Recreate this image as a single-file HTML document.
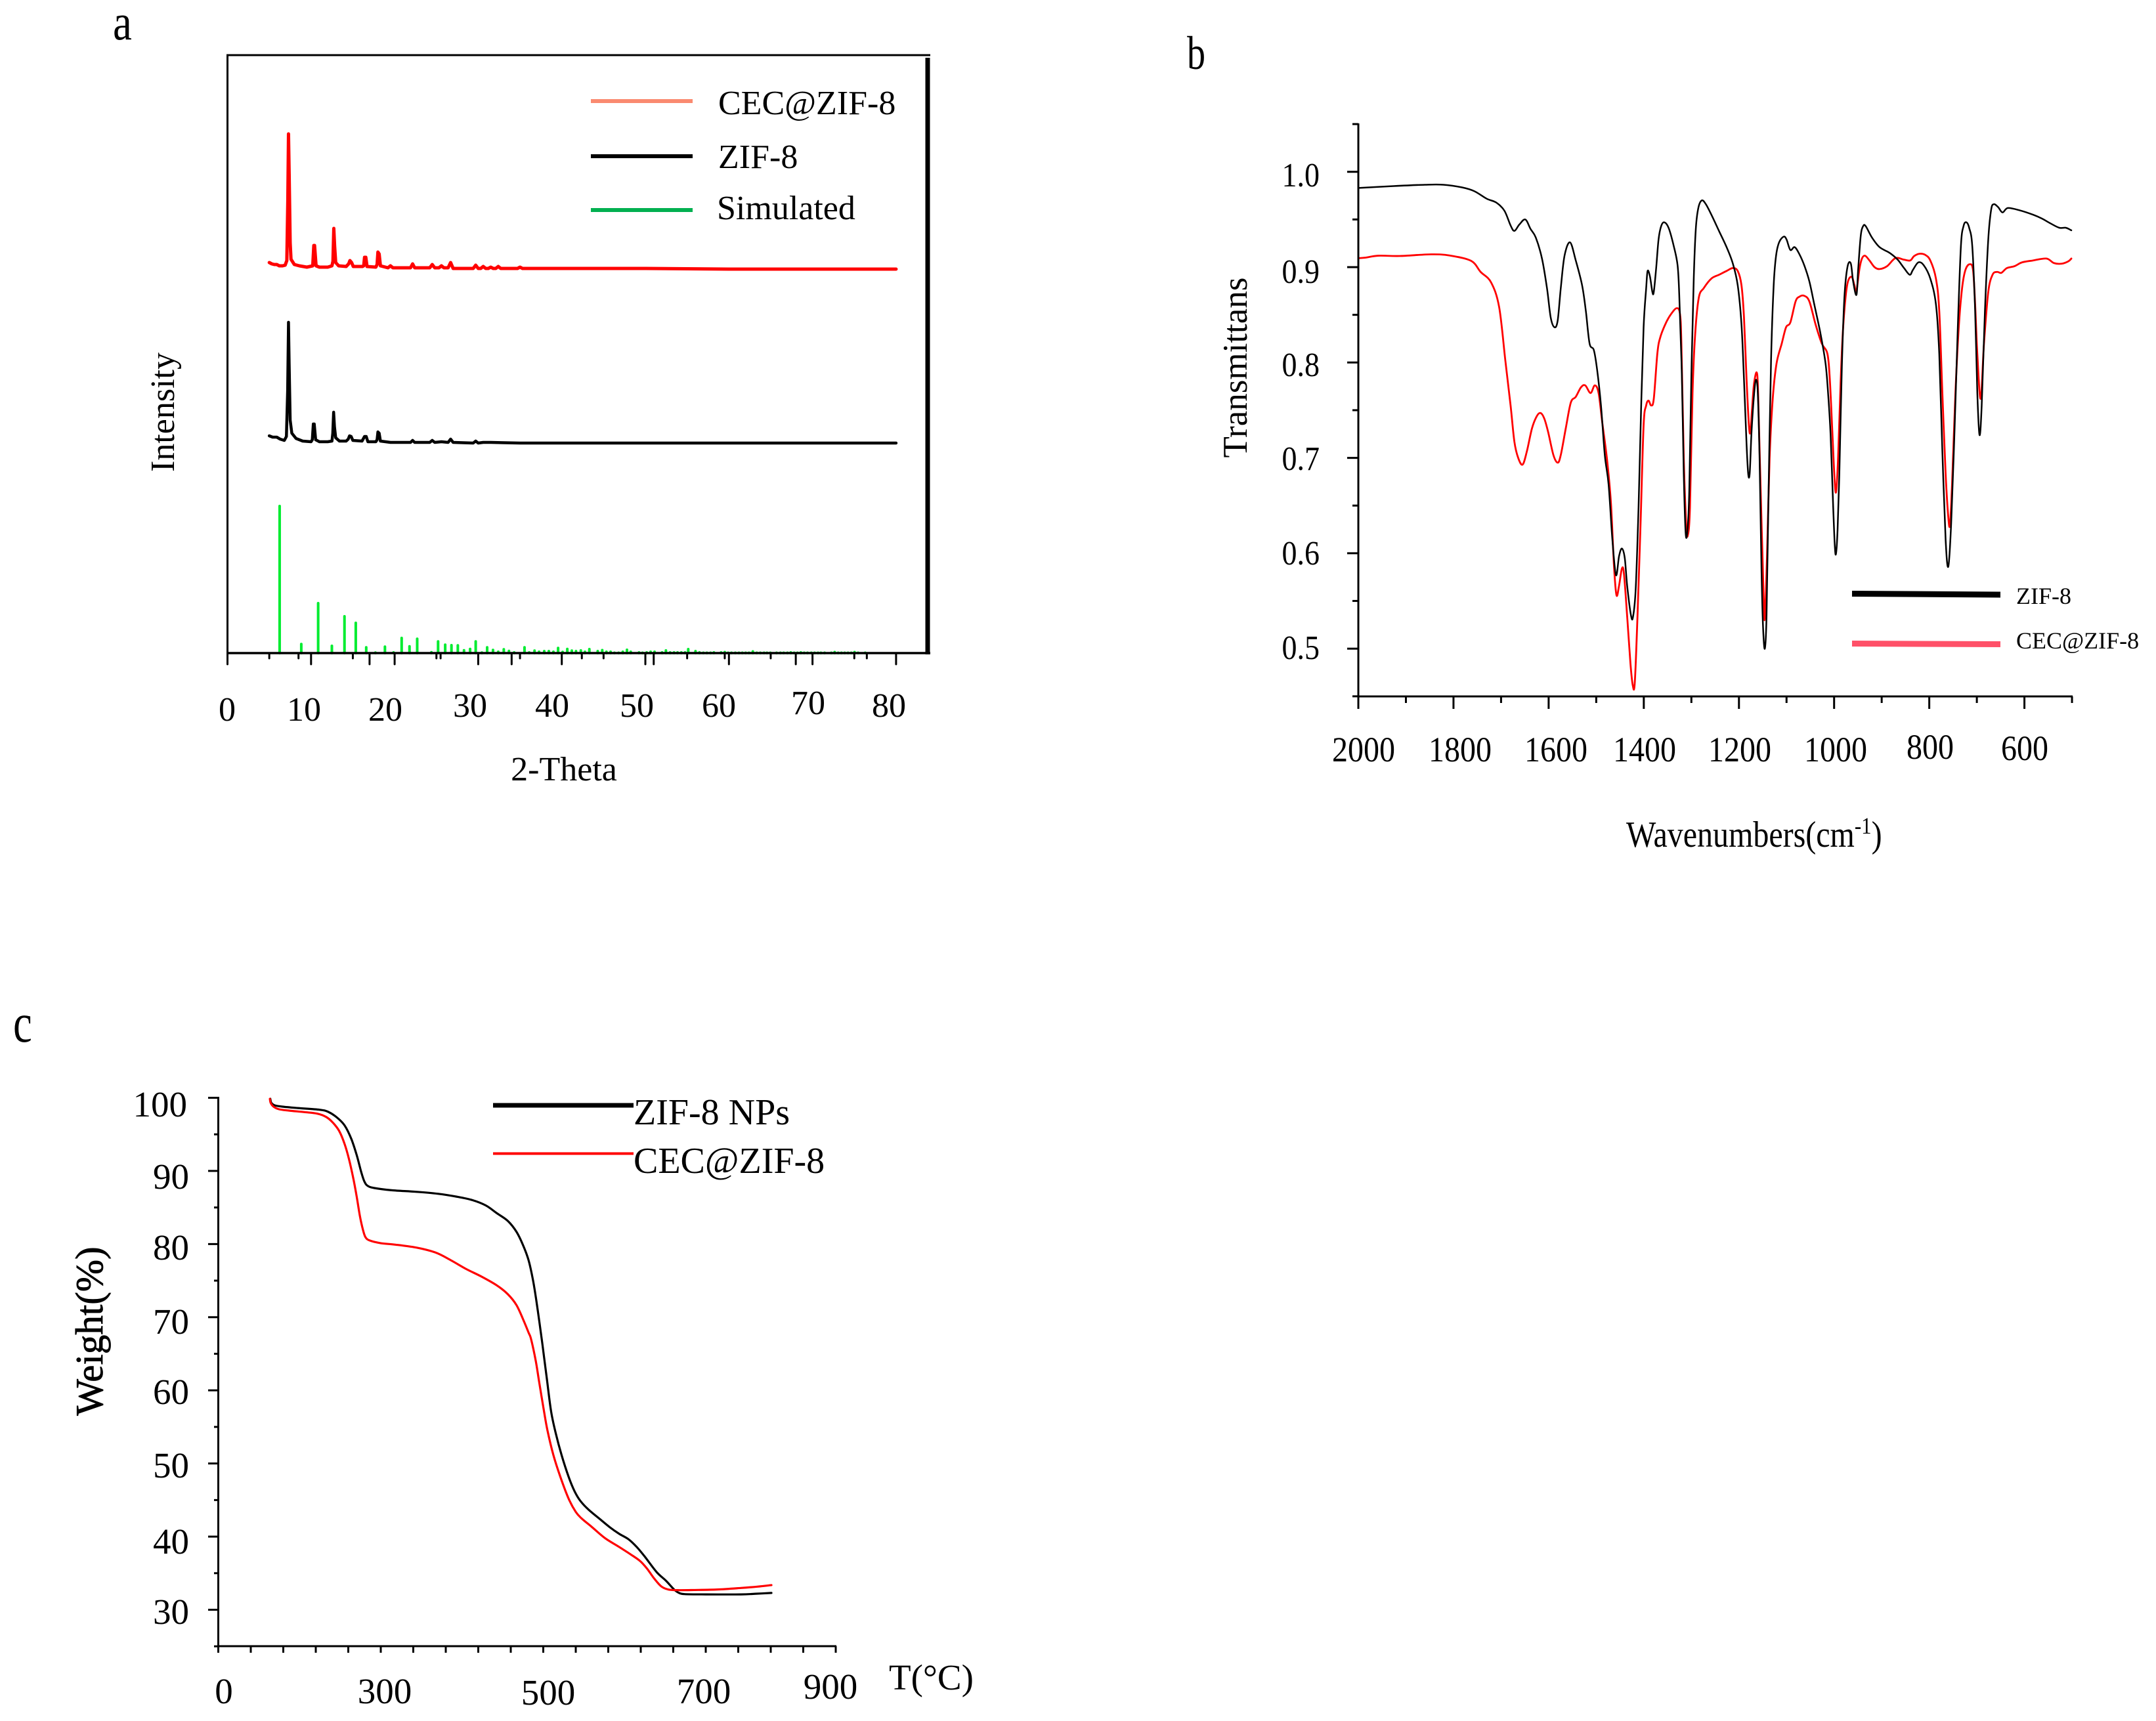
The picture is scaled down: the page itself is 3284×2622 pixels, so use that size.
<!DOCTYPE html>
<html lang="en">
<head>
<meta charset="utf-8">
<title>ZIF-8 and CEC@ZIF-8 characterisation</title>
<style>
html,body{margin:0;padding:0;background:#fff;}
svg{display:block;}
text{font-family:"Liberation Serif",serif;fill:#000;}
</style>
</head>
<body>
<svg id="figure" xmlns="http://www.w3.org/2000/svg" width="3284" height="2622" viewBox="0 0 3284 2622">
<rect x="0" y="0" width="3284" height="2622" fill="#ffffff"/>

<g id="panel-a">
  <text font-size="65" transform="translate(172,60) scale(1,1.2)">a</text>
  <g id="a-marks"></g>
  <g id="a-axes"></g>
  <g font-size="52" text-anchor="middle">
    <text x="346" y="1098">0</text>
    <text x="463" y="1098">10</text>
    <text x="587" y="1098">20</text>
    <text x="716" y="1092">30</text>
    <text x="841" y="1092">40</text>
    <text x="970" y="1092">50</text>
    <text x="1095" y="1092">60</text>
    <text x="1231" y="1088">70</text>
    <text x="1354" y="1092">80</text>
  </g>
  <text font-size="52" text-anchor="middle" x="859" y="1189">2-Theta</text>
  <text font-size="52" text-anchor="middle" transform="translate(265,628) rotate(-90)">Intensity</text>
  <g font-size="52">
    <line x1="900" y1="154" x2="1055" y2="154" stroke="#fa8a70" stroke-width="6"/>
    <text x="1094" y="174">CEC@ZIF-8</text>
    <line x1="900" y1="238" x2="1055" y2="238" stroke="#000" stroke-width="6"/>
    <text x="1094" y="256">ZIF-8</text>
    <line x1="900" y1="320" x2="1055" y2="320" stroke="#00b050" stroke-width="6"/>
    <text x="1092" y="334">Simulated</text>
  </g>
</g>

<g id="panel-b">
  <text font-size="56" transform="translate(1808,105) scale(1,1.28)">b</text>
  <g id="b-marks"></g>
  <g id="b-axes"></g>
  <g font-size="48" text-anchor="middle">
    <text transform="translate(2077,1160) scale(1,1.12)">2000</text>
    <text transform="translate(2224,1160) scale(1,1.12)">1800</text>
    <text transform="translate(2370,1160) scale(1,1.12)">1600</text>
    <text transform="translate(2505,1160) scale(1,1.12)">1400</text>
    <text transform="translate(2650,1160) scale(1,1.12)">1200</text>
    <text transform="translate(2796,1160) scale(1,1.12)">1000</text>
    <text transform="translate(2940,1156) scale(1,1.12)">800</text>
    <text transform="translate(3084,1158) scale(1,1.12)">600</text>
  </g>
  <g font-size="46" text-anchor="end">
    <text transform="translate(2010,284) scale(1,1.13)">1.0</text>
    <text transform="translate(2010,431) scale(1,1.13)">0.9</text>
    <text transform="translate(2010,573) scale(1,1.13)">0.8</text>
    <text transform="translate(2010,716) scale(1,1.13)">0.7</text>
    <text transform="translate(2010,860) scale(1,1.13)">0.6</text>
    <text transform="translate(2010,1004) scale(1,1.13)">0.5</text>
  </g>
  <text font-size="53" text-anchor="middle" transform="translate(1899,560) rotate(-90)">Transmittans</text>
  <text font-size="48" transform="translate(2477,1290) scale(1,1.17)">Wavenumbers(cm<tspan font-size="31" dy="-17">-1</tspan><tspan dy="17">)</tspan></text>
  <g font-size="36">
    <line x1="2821" y1="904.5" x2="3047" y2="906" stroke="#000" stroke-width="9"/>
    <text x="3071" y="920">ZIF-8</text>
    <line x1="2821" y1="980.5" x2="3047" y2="981.5" stroke="#ff5068" stroke-width="9"/>
    <text x="3071" y="988">CEC@ZIF-8</text>
  </g>
</g>

<g id="panel-c">
  <text font-size="65" transform="translate(20,1587) scale(1,1.3)">c</text>
  <g id="c-marks"></g>
  <g id="c-axes"></g>
  <g font-size="55" text-anchor="end">
    <text x="285" y="1701">100</text>
    <text x="288" y="1811">90</text>
    <text x="288" y="1919">80</text>
    <text x="288" y="2032">70</text>
    <text x="288" y="2139">60</text>
    <text x="288" y="2251">50</text>
    <text x="288" y="2367">40</text>
    <text x="288" y="2474">30</text>
  </g>
  <g font-size="55" text-anchor="middle">
    <text x="341" y="2595">0</text>
    <text x="586" y="2595">300</text>
    <text x="835" y="2597">500</text>
    <text x="1072" y="2595">700</text>
    <text x="1265" y="2588">900</text>
  </g>
  <text font-size="55" x="1354" y="2574">T(°C)</text>
  <text font-size="59" text-anchor="middle" stroke="#000" stroke-width="0.8" transform="translate(156,2028) rotate(-90)">Weight(%)</text>
  <g font-size="56">
    <line x1="751" y1="1684" x2="965" y2="1684" stroke="#000" stroke-width="7"/>
    <text x="965" y="1713">ZIF-8 NPs</text>
    <line x1="751" y1="1757.5" x2="965" y2="1757.5" stroke="#f00" stroke-width="4"/>
    <text x="965" y="1787">CEC@ZIF-8</text>
  </g>
</g>
</svg>

<script>
// ---------- Panel a: XRD ----------
const xrdTickMajor = [0,10,17,20,30,34,40,50,51,60,68,70,80];
const xrdTickMinor = [5,8.5,15,25,25.5,35,42.4,45,55,59.5,65,75,76.5];
const xrdCecTheta = [5,5.3,5.6,5.9,6.2,6.6,6.9,7.1,7.22,7.3,7.38,7.5,7.6,8,8.6,9.5,10.2,10.33,10.42,10.6,11,12,12.5,12.62,12.72,12.82,12.95,13.3,14.2,14.5,14.65,14.85,15.05,16.15,16.3,16.4,16.55,16.7,17.75,17.9,18,18.15,18.3,19.2,19.5,19.8,21.9,22.15,22.4,24.2,24.5,24.8,25.3,25.6,25.9,26.4,26.7,27,29.4,29.7,30,30.3,30.6,30.9,31.2,31.5,31.8,32.1,32.4,32.7,34.7,35,35.3,40,50,60,70,80];
const xrdCecIntensity = [595,593,592,592,590,590,591,598,690,791,730,625,600,592,590,588,590,621,621,590,588,588,590,597,647,620,595,590,589,593,598,595,589,589,590,603,603,589,588,592,611,608,590,587,590,587,587,593,587,587,592,587,587,590,587,587,595,586,586,591,586,586,589,586,586,588,586,586,589,586,586,588,586,586,586,585,585,585];
const xrdZifTheta = [5,5.4,5.9,6.3,6.8,7.05,7.2,7.3,7.38,7.5,7.7,8.2,9,10,10.15,10.27,10.38,10.55,11,12,12.5,12.6,12.7,12.8,12.95,13.4,14.2,14.45,14.6,14.8,15,16.1,16.4,16.6,16.8,17.75,17.9,18,18.15,18.3,19.5,21.9,22.15,22.4,24.2,24.5,24.8,25.6,26.4,26.7,27,29.4,29.7,30,30.6,31.5,35,50,80];
const xrdZifIntensity = [331,329,329,326,324,330,400,504,440,355,335,327,323,322,325,349,349,325,322,322,323,335,367,345,328,323,323,326,331,330,324,323,330,330,322,322,325,337,335,323,321,321,324,321,321,324,321,322,321,326,321,320,323,320,321,321,320,320,320];
const xrdSimTheta = [6.24,8.83,10.85,12.49,14,15.35,16.6,17.7,18.84,19.87,20.84,21.78,22.7,24.4,25.2,26.05,26.8,27.56,28.3,29.03,29.7,30.44,31.07,31.77,32.4,33.06,33.68,34.3,35.54,36.1,36.74,37.28,37.9,38.45,39,39.56,40.1,40.66,41.2,41.7,42.28,42.77,43.3,44.3,44.84,45.34,45.84,46.3,46.8,47.3,47.8,48.25,49.24,49.66,50.16,50.63,51.1,52,52.46,52.96,53.43,53.85,54.3,54.75,55.13,56,56.47,56.94,57.36,57.8,58.2,59.06,59.5,59.9,60.3,60.76,61.2,61.6,62,62.4,62.86,63.33,63.75,64.2,64.55,64.95,65.7,66.16,66.55,67,67.4,67.8,68.2,68.6,69,69.4,69.85,70.25,70.66,71,71.45,72.25,72.65,73.07,73.46,73.85,74.25,74.64,75.03,75.45,76.3];
const xrdSimIntensity = [226,15.7,78,13,58,48,10.7,2.7,11.7,3,25,12.3,23.7,3.3,19.7,14.7,14,13.7,6.3,8.3,19.7,2.7,10.7,6.7,4,7.7,5.3,3,10.7,3,5.7,4,5,5,4,9.7,3.7,8.3,5.7,5,6,4,8,5,6.5,4,4,2,2,4,7,4,3,2,3,4,4,3,6,3,3,3,3,3,8,5,3,2.5,2.5,2.5,3,3,3.5,2.5,2.5,2.5,2.5,2,2.5,1.5,4.5,2,1.5,1.5,1.5,2,1.5,1.5,1.5,2,3,1.5,1.5,3,2.5,2.5,1.5,1.5,1.5,1.5,1.5,1.5,3.5,1.5,1.5,1.5,1.5,1.5,3.5,1.5,1.5];

// ---------- Panel b: FTIR ----------
const ftirTickMajorX = [2000,1800,1600,1400,1200,1000,800,600];
const ftirTickMinorX = [1900,1700,1500,1300,1100,900,700,500];
const ftirTickMajorY = [1,0.9,0.8,0.7,0.6,0.5];
const ftirTickMinorY = [1.05,0.95,0.85,0.75,0.65,0.55,0.45];
const ftirZifWavenumber = [2000,1926,1860,1821,1782,1756,1730,1710,1693,1680,1672,1661.5,1649,1638,1627,1614,1603.5,1595.6,1587.7,1581,1574.5,1566.6,1555,1543,1529.7,1521.8,1514,1505,1498,1490,1482,1474,1466,1458.5,1452,1446,1440,1435,1427,1422.6,1417,1411,1405.7,1400.4,1395,1392,1387,1382,1379,1374,1369,1363.5,1357,1347.7,1337,1329,1325.5,1320,1316,1312,1308,1304.4,1300,1295,1290.7,1285.4,1278,1269.6,1258,1242,1226,1213,1202.6,1194.7,1189.4,1184,1180.5,1177.3,1173.6,1168,1164,1160.4,1156.7,1152.5,1149.3,1145.6,1142,1137.7,1132.5,1127,1122,1115.6,1106,1100,1092,1083,1073.4,1062.8,1052,1041.7,1028.5,1018,1012.7,1007.4,1002,998.5,996,992.7,989,983.7,978.4,972,965,960,953,949.4,944,939,933.6,920.4,904.6,883.5,866.7,853,841,834.5,823,811.6,797.8,786,779,772.5,765.6,760,754,747,740,733.5,728,722,716,709.6,703.6,699,694.4,689.8,683,676,670,664.5,655.4,646,634.7,609.4,582,563.5,545,526.7,513,501.4];
const ftirZifTransmittance = [0.983,0.985,0.9864,0.9864,0.9836,0.9796,0.9717,0.9677,0.9592,0.9437,0.938,0.9447,0.95,0.94,0.931,0.909,0.878,0.847,0.837,0.844,0.878,0.912,0.926,0.907,0.881,0.854,0.82,0.813,0.792,0.755,0.703,0.672,0.614,0.577,0.597,0.605,0.595,0.566,0.535,0.5335,0.563,0.649,0.751,0.837,0.878,0.896,0.89,0.874,0.874,0.899,0.929,0.943,0.947,0.941,0.922,0.902,0.871,0.786,0.683,0.621,0.625,0.666,0.786,0.888,0.94,0.962,0.97,0.966,0.955,0.938,0.921,0.904,0.881,0.84,0.782,0.714,0.683,0.6845,0.727,0.768,0.782,0.768,0.7,0.58,0.522,0.5,0.535,0.666,0.803,0.881,0.912,0.926,0.932,0.929,0.918,0.921,0.914,0.902,0.885,0.861,0.83,0.799,0.768,0.724,0.649,0.6075,0.5996,0.6246,0.683,0.796,0.868,0.9,0.904,0.885,0.871,0.898,0.933,0.943,0.943,0.931,0.921,0.915,0.908,0.899,0.892,0.897,0.905,0.902,0.888,0.861,0.809,0.707,0.614,0.586,0.631,0.727,0.837,0.922,0.943,0.947,0.941,0.922,0.854,0.768,0.724,0.755,0.854,0.929,0.96,0.966,0.963,0.9574,0.962,0.9595,0.955,0.951,0.9458,0.9413,0.9413,0.9386];
const ftirCecWavenumber = [2000,1985,1958,1913,1847,1808,1763,1743,1721,1704,1691,1680,1672,1664,1654.7,1645.7,1635,1624.6,1616.7,1609,1601,1590,1581,1574.5,1564,1553.4,1543,1532,1523,1512,1503,1495,1487.5,1477,1469,1462.7,1457.4,1452,1446,1441.6,1434.7,1428,1423,1419,1413.6,1406.8,1400.4,1395,1390,1384.6,1379,1371.4,1365,1353,1342.4,1330.8,1324,1321,1316,1311,1307.6,1303,1297.6,1292,1284.4,1274,1258,1242,1226,1213,1202.6,1194.7,1189.4,1184,1179,1176,1172.5,1168,1161.5,1158,1152.5,1148,1145.6,1141,1135.6,1129,1121,1110,1101,1092,1081,1073,1063,1052,1039,1026,1014,1009,1003.7,999.6,996,991.6,986.3,981,973,963.7,957.3,953.6,946.8,941.5,935,925.7,915,904.6,888.7,871,853,840,832,820.8,809,797.8,786,779,772.5,765.6,760,756.4,752,745,738,731,724,715,708,703.6,699,692,685,676,667,657.6,648.5,637,621,605,582,554,538,522,508,501.4];
const ftirCecTransmittance = [0.9094,0.91,0.912,0.9117,0.9134,0.9122,0.9066,0.895,0.884,0.858,0.802,0.755,0.717,0.7,0.693,0.707,0.731,0.744,0.747,0.741,0.727,0.703,0.695,0.703,0.731,0.758,0.764,0.774,0.776,0.768,0.776,0.768,0.738,0.697,0.652,0.587,0.556,0.566,0.584,0.578,0.532,0.484,0.461,0.464,0.529,0.6315,0.734,0.755,0.76,0.755,0.762,0.81,0.827,0.842,0.851,0.857,0.851,0.82,0.7,0.631,0.6185,0.648,0.768,0.83,0.868,0.878,0.888,0.892,0.896,0.899,0.896,0.881,0.847,0.782,0.734,0.727,0.751,0.779,0.787,0.734,0.631,0.553,0.532,0.597,0.7,0.762,0.799,0.82,0.837,0.842,0.864,0.869,0.87,0.864,0.84,0.82,0.809,0.782,0.727,0.683,0.664,0.7,0.779,0.837,0.88,0.89,0.881,0.873,0.898,0.909,0.912,0.907,0.9,0.898,0.901,0.9095,0.9078,0.907,0.9115,0.914,0.913,0.907,0.888,0.854,0.768,0.683,0.638,0.63,0.673,0.768,0.837,0.878,0.897,0.903,0.897,0.861,0.809,0.762,0.82,0.874,0.892,0.895,0.894,0.899,0.901,0.905,0.907,0.909,0.9043,0.9036,0.906,0.909];

// ---------- Panel c: TGA ----------
const tgaTickTemps = [100,140,180,220,260,300,340,380,420,460,500,540,580,620,660,700,740,780,820,860];
const tgaTickMajorY = [100,90,80,70,60,50,40,30];
const tgaTickMinorY = [95,85,75,65,55,45,35,25];
const tgaZifTemp = [164,165.3,169.4,178.8,197.7,224.6,235.4,246.2,255.6,263.7,270.4,275.8,279.8,283.9,292,313.5,343,370,394.3,413,429.4,442.8,456.3,467,475,481.9,487.3,491.3,495.4,498.6,500.9,504.4,509.6,515.3,522.5,531.2,538.4,545.6,555.7,570.2,581.7,593.2,604.8,614.9,625,639.4,651,661,666.8,674,700,743.3,763.5,780.8];
const tgaZifWeight = [99.86,99.3,98.97,98.79,98.6,98.37,98.07,97.29,96.2,94.39,92.15,89.9,88.56,87.96,87.66,87.36,87.15,86.88,86.46,86,85.27,84.22,83.17,81.68,79.88,77.79,75.1,72.4,69.2,66.6,64.6,61.6,57.15,54.16,51.17,48.18,46.23,44.89,43.69,42.35,41.3,40.4,39.65,38.6,37.26,35.17,33.97,32.77,32.32,32.14,32.1,32.1,32.2,32.3];
const tgaCecTemp = [163.5,164.5,168,174.8,186.9,205.8,221.9,232.7,240.8,248.9,255.6,261,266.4,270.4,274.4,278,281.2,286.6,300,316.2,343.1,367.4,386.2,405.1,424,442.8,456.3,467,475.2,481.9,485,490.8,495.1,500.9,505.2,512.4,521,531.2,539.9,547,560,575.9,593.2,607.7,619.2,627.9,636.5,645.2,653.9,665.4,685.6,714.5,743.3,763.5,780.8];
const tgaCecWeight = [99.86,99.3,98.79,98.43,98.25,98.04,97.83,97.38,96.63,95.44,93.64,91.55,88.86,86.46,83.77,81.98,80.93,80.48,80.12,79.94,79.53,78.84,77.79,76.59,75.55,74.35,73.15,71.66,69.7,67.9,67,64,61.04,57.15,54.5,51.17,48.18,45.19,43.39,42.5,41.3,39.8,38.6,37.56,36.66,35.6,34.27,33.2,32.77,32.68,32.7,32.77,32.98,33.16,33.37];

const SVGNS = 'http://www.w3.org/2000/svg';

// axis functions
function xA(theta){ return 346.5 + theta * 12.73; }
function yA(intensity){ return 995 - intensity; }
function xB(wavenumber){ return 2069 + (2000 - wavenumber) * 0.7247; }
function yB(transmittance){ return 261.7 + (1 - transmittance) * 1453; }
function xC(temp){ return 332.5 + (temp - 100) * 1.2375; }
function yC(weight){ return 1672.5 + (100 - weight) * 11.143; }

function drawLine(parent, name, x1, y1, x2, y2, color, width, cap){
  const el = document.createElementNS(SVGNS, 'line');
  
  
  el.setAttribute('x1', x1);
  el.setAttribute('y1', y1);
  el.setAttribute('x2', x2);
  el.setAttribute('y2', y2);
  el.setAttribute('stroke', color);
  el.setAttribute('stroke-width', width);
  el.setAttribute('stroke-linecap', cap || 'butt');
  parent.appendChild(el);
}

function drawSeries(parent, name, xs, ys, xFn, yFn, color, width){
  const el = document.createElementNS(SVGNS, 'polyline');
  
  
  el.setAttribute('points', xs.map(function(v, i){ return xFn(v).toFixed(2) + ',' + yFn(ys[i]).toFixed(2); }).join(' '));
  el.setAttribute('fill', 'none');
  el.setAttribute('stroke', color);
  el.setAttribute('stroke-width', width);
  el.setAttribute('stroke-linejoin', 'round');
  el.setAttribute('stroke-linecap', 'round');
  parent.appendChild(el);
}

// Same series drawn as a smooth curve through every data point
function drawSmoothSeries(parent, name, xs, ys, xFn, yFn, color, width){
  const px = xs.map(xFn);
  const py = ys.map(yFn);
  let d = 'M' + px[0].toFixed(2) + ' ' + py[0].toFixed(2);
  for (let i = 0; i < px.length - 1; i++) {
    const a = Math.max(i - 1, 0);
    const b = Math.min(i + 2, px.length - 1);
    const c1x = px[i] + (px[i + 1] - px[a]) / 6;
    const c1y = py[i] + (py[i + 1] - py[a]) / 6;
    const c2x = px[i + 1] - (px[b] - px[i]) / 6;
    const c2y = py[i + 1] - (py[b] - py[i]) / 6;
    d += 'C' + c1x.toFixed(2) + ' ' + c1y.toFixed(2) + ' ' + c2x.toFixed(2) + ' ' + c2y.toFixed(2) + ' ' + px[i + 1].toFixed(2) + ' ' + py[i + 1].toFixed(2);
  }
  const el = document.createElementNS(SVGNS, 'path');
  
  
  el.setAttribute('d', d);
  el.setAttribute('fill', 'none');
  el.setAttribute('stroke', color);
  el.setAttribute('stroke-width', width);
  el.setAttribute('stroke-linejoin', 'round');
  el.setAttribute('stroke-linecap', 'round');
  parent.appendChild(el);
}

// Panel a marks
const aMarks = document.getElementById('a-marks');
xrdSimTheta.forEach(function(theta, i){
  const top = Math.max(xrdSimIntensity[i] - 2, 0.5);
  drawLine(aMarks, 'simulated-peak', xA(theta), yA(0), xA(theta), yA(top), '#00ec30', 4, 'round');
});
drawSeries(aMarks, 'series-cec-zif-8', xrdCecTheta, xrdCecIntensity, xA, yA, '#ff0000', 5);
drawSeries(aMarks, 'series-zif-8', xrdZifTheta, xrdZifIntensity, xA, yA, '#000000', 4.5);

// Panel a axes
const aAxes = document.getElementById('a-axes');
drawLine(aAxes, 'frame-top', 345, 84, 1417, 84, '#000', 3);
drawLine(aAxes, 'frame-left', 346.5, 83, 346.5, 996, '#000', 3);
drawLine(aAxes, 'frame-right', 1413, 88, 1413, 997, '#000', 7);
drawLine(aAxes, 'x-axis-line', 345, 995, 1417, 995, '#000', 3.5);
xrdTickMajor.forEach(function(v){
  drawLine(aAxes, 'x-tick-major', xA(v), 995, xA(v), 1012, '#000', 3, 'round');
});
xrdTickMinor.forEach(function(v){
  drawLine(aAxes, 'x-tick-minor', xA(v), 995, xA(v), 1003, '#000', 3, 'round');
});

// Panel b marks
const bMarks = document.getElementById('b-marks');
drawSmoothSeries(bMarks, 'series-cec-zif-8', ftirCecWavenumber, ftirCecTransmittance, xB, yB, '#ff0000', 2.8);
drawSmoothSeries(bMarks, 'series-zif-8', ftirZifWavenumber, ftirZifTransmittance, xB, yB, '#000000', 2.5);

// Panel b axes
const bAxes = document.getElementById('b-axes');
drawLine(bAxes, 'y-axis-line', xB(2000), 188, xB(2000), 1062, '#000', 3);
drawLine(bAxes, 'x-axis-line', xB(2000), 1061, xB(500) + 1, 1061, '#000', 3);
ftirTickMajorY.forEach(function(v){
  drawLine(bAxes, 'y-tick-major', xB(2000) - 17, yB(v), xB(2000), yB(v), '#000', 3);
});
ftirTickMinorY.forEach(function(v){
  drawLine(bAxes, 'y-tick-minor', xB(2000) - 9, yB(v), xB(2000), yB(v), '#000', 3);
});
ftirTickMajorX.forEach(function(v){
  drawLine(bAxes, 'x-tick-major', xB(v), 1061, xB(v), 1080, '#000', 3);
});
ftirTickMinorX.forEach(function(v){
  drawLine(bAxes, 'x-tick-minor', xB(v), 1061, xB(v), 1071, '#000', 3);
});

// Panel c marks
const cMarks = document.getElementById('c-marks');
drawSmoothSeries(cMarks, 'series-zif-8-nps', tgaZifTemp, tgaZifWeight, xC, yC, '#000000', 3.2);
drawSmoothSeries(cMarks, 'series-cec-zif-8', tgaCecTemp, tgaCecWeight, xC, yC, '#ff0000', 3.2);

// Panel c axes
const cAxes = document.getElementById('c-axes');
drawLine(cAxes, 'y-axis-line', 332.5, 1671, 332.5, 2509, '#000', 3);
drawLine(cAxes, 'x-axis-line', 331, 2508, 1274, 2508, '#000', 3);
tgaTickMajorY.forEach(function(v){
  drawLine(cAxes, 'y-tick-major', 317, yC(v), 332.5, yC(v), '#000', 3);
});
tgaTickMinorY.forEach(function(v){
  drawLine(cAxes, 'y-tick-minor', 326, yC(v), 332.5, yC(v), '#000', 3);
});
tgaTickTemps.forEach(function(v){
  drawLine(cAxes, 'x-tick', xC(v), 2508, xC(v), 2518, '#000', 3);
});
</script>
</body>
</html>
